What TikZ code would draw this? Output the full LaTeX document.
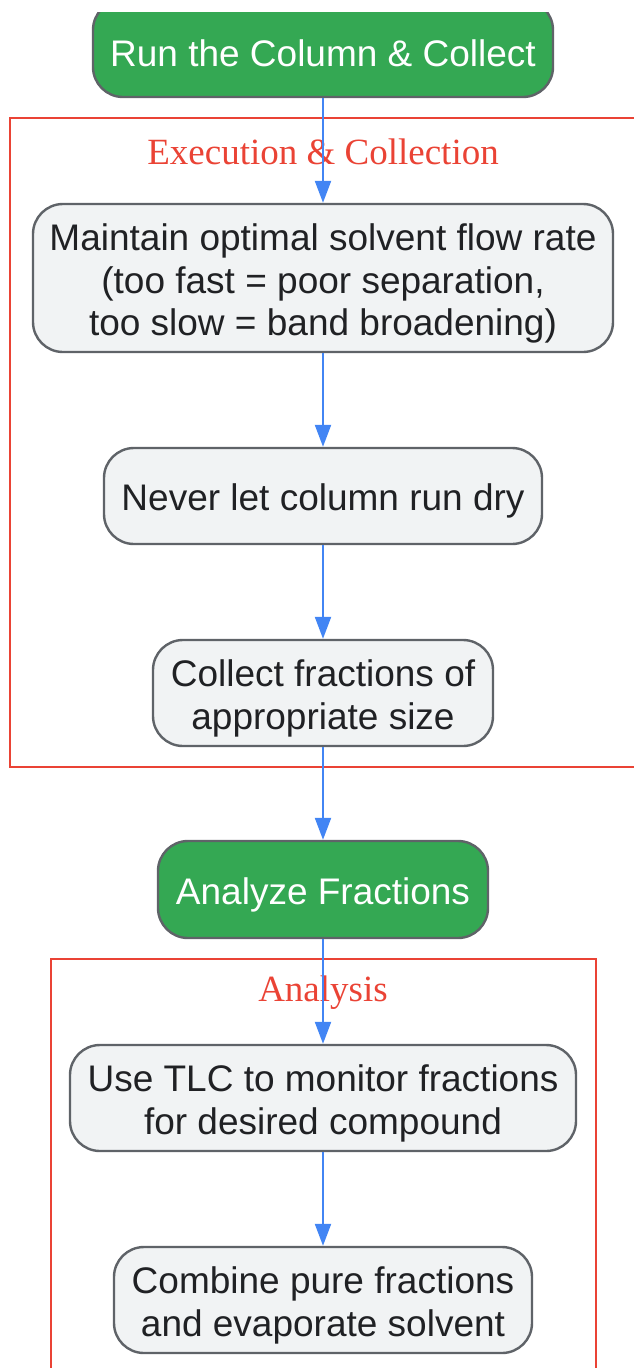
\documentclass[tikz,border=0pt]{standalone}
\usepackage{fontspec}
\setmainfont{Liberation Sans}
\newfontfamily\serifttl{Liberation Serif}
\usetikzlibrary{arrows.meta}
\definecolor{ngreen}{HTML}{34A853}
\definecolor{nfill}{HTML}{F1F3F4}
\definecolor{nborder}{HTML}{5F6368}
\definecolor{cred}{HTML}{EA4335}
\definecolor{ablue}{HTML}{4285F4}
\definecolor{ntext}{HTML}{202124}
\newcommand{\toplift}{\rule{0pt}{38pt}}
\begin{document}
\begin{tikzpicture}[x=1pt,y=-1pt,
 box/.style={draw=nborder, line width=2.4pt, rounded corners=30pt, fill=nfill, text=ntext, align=center, inner sep=0pt, font=\fontsize{37}{42.5}\selectfont},
 gbox/.style={box, fill=ngreen, text=white},
 cluster/.style={draw=cred, line width=2.2pt},
 ctitle/.style={text=cred, font=\serifttl\fontsize{37}{42}\selectfont, inner sep=0pt},
 arr/.style={draw=ablue, line width=2.2pt, -{Triangle[length=22pt,width=16pt]}}]
\useasboundingbox (0,0) rectangle (634,1368);
\clip (0,12) rectangle (634,1368);
\draw[cluster] (10,118) rectangle (650,767);
\draw[cluster] (51,959) rectangle (596,1390);
\node[ctitle] (t1) at (323,152) {Execution \& Collection};
\node[ctitle] (t2) at (323,993) {Analysis};
\node[gbox, minimum width=460pt, minimum height=97pt] (run) at (323,48.5) {\rule{0pt}{37pt}Run the Column \& Collect};
\node[box, minimum width=580pt, minimum height=148pt] (n1) at (323,278) {\toplift Maintain optimal solvent flow rate\\(too fast = poor separation,\\too slow = band broadening)};
\node[box, minimum width=438pt, minimum height=96pt] (n2) at (323,496) {\rule{0pt}{37pt}Never let column run dry};
\node[box, minimum width=340pt, minimum height=106pt] (n3) at (323,693) {\toplift Collect fractions of\\appropriate size};
\node[gbox, minimum width=330pt, minimum height=97pt] (ana) at (323,889.5) {\rule{0pt}{37pt}Analyze Fractions};
\node[box, minimum width=506pt, minimum height=106pt] (n6) at (323,1098) {\toplift Use TLC to monitor fractions\\for desired compound};
\node[box, minimum width=418pt, minimum height=106pt] (n7) at (323,1300) {\toplift Combine pure fractions\\and evaporate solvent};
\draw[arr] (run) -- (n1);
\draw[arr] (n1) -- (n2);
\draw[arr] (n2) -- (n3);
\draw[arr] (n3) -- (ana);
\draw[arr] (ana) -- (n6);
\draw[arr] (n6) -- (n7);
\end{tikzpicture}
\end{document}
